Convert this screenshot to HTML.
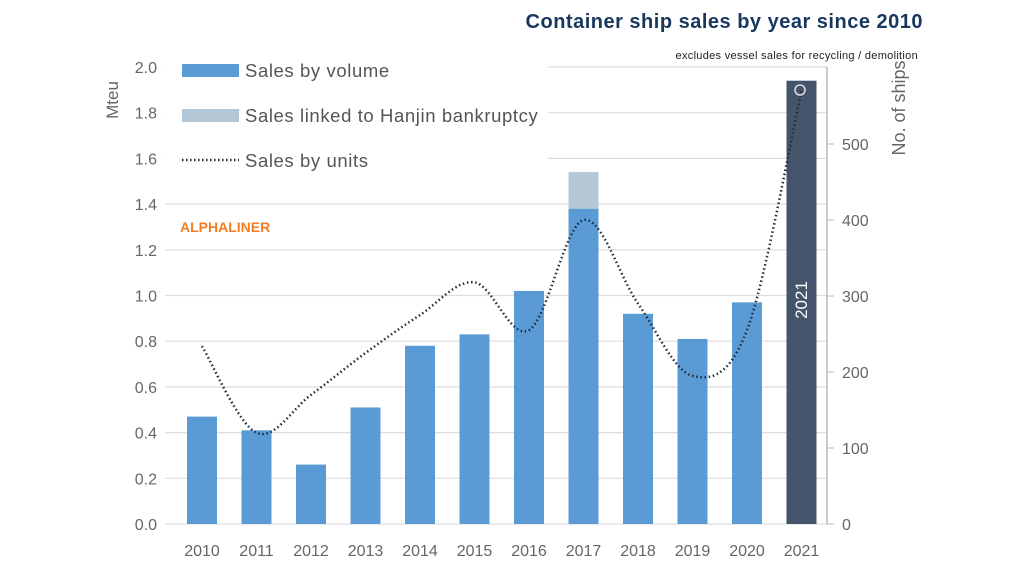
<!DOCTYPE html>
<html><head><meta charset="utf-8"><style>
body{margin:0;background:#fff;width:1024px;height:576px;overflow:hidden;font-family:"Liberation Sans",sans-serif}
</style></head><body>
<svg id="s" width="1024" height="576" xmlns="http://www.w3.org/2000/svg" font-family="Liberation Sans, sans-serif">
<text x="923" y="28" text-anchor="end" font-size="20" font-weight="bold" fill="#17375e" letter-spacing="0.5">Container ship sales by year since 2010</text>
<text x="918" y="59" text-anchor="end" font-size="11" fill="#222" letter-spacing="0.3">excludes vessel sales for recycling / demolition</text>
<g id="grid"></g>
<rect x="166" y="55" width="382" height="125" fill="#fff"/>
<line x1="827" y1="67" x2="827" y2="524" stroke="#bbb" stroke-width="1.5"/>
<g id="bars"></g>
<rect x="182" y="64" width="57" height="13" fill="#5b9bd5"/>
<text x="245" y="77" font-size="18.5" fill="#555" letter-spacing="0.6">Sales by volume</text>
<rect x="182" y="109" width="57" height="13" fill="#b4c7d6"/>
<text x="245" y="122" font-size="18.5" fill="#555" letter-spacing="0.6">Sales linked to Hanjin bankruptcy</text>
<line x1="182" y1="160" x2="239" y2="160" stroke="#1f2d3d" stroke-width="2.5" stroke-dasharray="1.5 2.5"/>
<text x="245" y="167" font-size="18.5" fill="#555" letter-spacing="0.6">Sales by units</text>
<text x="180" y="232" font-size="14" font-weight="bold" fill="#f57c20">ALPHALINER</text>
<text transform="translate(118,100) rotate(-90)" text-anchor="middle" font-size="17" fill="#666">Mteu</text>
<text transform="translate(905,108) rotate(-90)" text-anchor="middle" font-size="18" fill="#666">No. of ships</text>
<path id="ln" fill="none" stroke="#1f2d3d" stroke-width="2.5" stroke-dasharray="1.5 2.7"/>
<circle cx="800" cy="90" r="5" fill="none" stroke="#ddd" stroke-width="1.5"/>
<text transform="translate(807,300) rotate(-90)" text-anchor="middle" font-size="17" fill="#fff">2021</text>
</svg>
<script>
const s=document.getElementById('s'),g=document.getElementById('grid'),b=document.getElementById('bars');
const NS='http://www.w3.org/2000/svg';
function el(p,t,a,txt){const e=document.createElementNS(NS,t);for(const k in a)e.setAttribute(k,a[k]);if(txt!==undefined)e.textContent=txt;p.appendChild(e);return e;}
const y0=524,k=228.5;
for(let i=0;i<=10;i++){const y=y0-i*0.2*k;
 el(g,'line',{x1:165,x2:827,y1:y,y2:y,stroke:'#ddd','stroke-width':1.2});
 el(g,'text',{x:157,y:y+6,'text-anchor':'end','font-size':16,fill:'#666'},(i*0.2).toFixed(1));}
for(let i=0;i<=5;i++){const y=y0-i*76;
 el(g,'line',{x1:827,x2:834,y1:y,y2:y,stroke:'#bbb'});
 el(g,'text',{x:842,y:y+6,'font-size':16,fill:'#666'},i*100);}
const v=[0.47,0.41,0.26,0.51,0.78,0.83,1.02,1.38,0.92,0.81,0.97,1.94];
const X=i=>202+i*54.5;
v.forEach((d,i)=>{const x=X(i);
 el(b,'rect',{x:x-15,y:y0-d*k,width:30,height:d*k,fill:i==11?'#44546a':'#5b9bd5'});
 el(b,'text',{x:x,y:556,'text-anchor':'middle','font-size':16,fill:'#666'},2010+i);});
el(b,'rect',{x:X(7)-15,y:y0-1.54*k,width:30,height:0.16*k,fill:'#b4c7d6'});
const u=[234,120,170,225,275,318,255,400,290,195,255,570];
const P=u.map((d,i)=>[X(i),y0-d*0.76]);
let d='M'+P[0];
for(let i=0;i<P.length-1;i++){const p0=P[Math.max(0,i-1)],p1=P[i],p2=P[i+1],p3=P[Math.min(P.length-1,i+2)],t=6;
 d+=` C${p1[0]+(p2[0]-p0[0])/t},${p1[1]+(p2[1]-p0[1])/t} ${p2[0]-(p3[0]-p1[0])/t},${p2[1]-(p3[1]-p1[1])/t} ${p2[0]},${p2[1]}`;}
document.getElementById('ln').setAttribute('d',d);
</script>
</body></html>
